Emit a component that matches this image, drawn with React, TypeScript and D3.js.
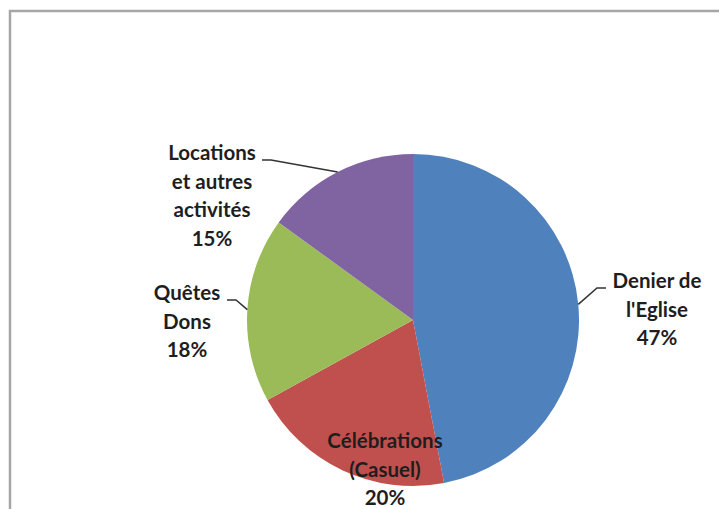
import * as d3 from "d3";

const categories = ["Denier de l'Eglise", "Célébrations (Casuel)", "Quêtes Dons", "Locations et autres activités"];
const values = [47, 20, 18, 15];
const colors = ["#4f81bd", "#c0504d", "#9bbb59", "#8064a2"];
// label lines as shown in the chart
const labelLines = [
  ["Denier de", "l'Eglise", "47%"],
  ["Célébrations", "(Casuel)", "20%"],
  ["Quêtes", "Dons", "18%"],
  ["Locations", "et autres", "activités", "15%"],
];
// label placement relative to the pie centre (first line)
const labelOffsets: [number, number][] = [
  [244, -39],
  [-28, 121],
  [-226, -27],
  [-201, -167],
];
const hasLeader = [true, false, true, true];

export default function App() {
  const width = 719, height = 509;
  const cx = 413, cy = 320, r = 166;
  const lineH = 28.5;

  const pie = d3.pie<number>().sort(null).value(d => d);
  const arcs = pie(values);
  const arc = d3.arc<d3.PieArcDatum<number>>().innerRadius(0).outerRadius(r);
  const edge = d3.arc<d3.PieArcDatum<number>>().innerRadius(r).outerRadius(r);

  return (
    <svg width={width} height={height} style={{position: "absolute", left: 0, top: 0}}>
      <rect x={0} y={0} width={width} height={height} fill="#fff"/>
      <rect x={10} y={11} width={width + 20} height={height + 20} fill="none" stroke="#a6a6a6" strokeWidth={2.5}/>
      <g transform={`translate(${cx},${cy})`}>
        {arcs.map((a, i) => (
          <path key={categories[i]} d={arc(a) ?? ""} fill={colors[i]}/>
        ))}
        {arcs.map((a, i) => {
          if (!hasLeader[i]) return null;
          const [ex, ey] = edge.centroid(a);
          const [lx, ly] = labelOffsets[i];
          const right = lx > 0;
          const ax = right ? lx - 51 : lx + (i === 3 ? 50 : 40);
          const ay = ly + 7;
          const bx = right ? ax - 9 : ax + 9;
          return (
            <polyline key={"l" + i} points={`${ex},${ey} ${bx},${ay} ${ax},${ay}`}
                      fill="none" stroke="#333" strokeWidth={1.5}/>
          );
        })}
        {arcs.map((a, i) => {
          const [lx, ly] = labelOffsets[i];
          return (
            <text key={"t" + i} x={lx} y={ly} textAnchor="middle"
                  fontFamily="Lato, 'Open Sans', sans-serif" fontWeight="bold" fontSize={20.5} fill="#1e1e1e">
              {labelLines[i].map((s, j) => (
                <tspan key={j} x={lx} y={ly + j * lineH} dy="0.35em">{s}</tspan>
              ))}
            </text>
          );
        })}
      </g>
    </svg>
  );
}
